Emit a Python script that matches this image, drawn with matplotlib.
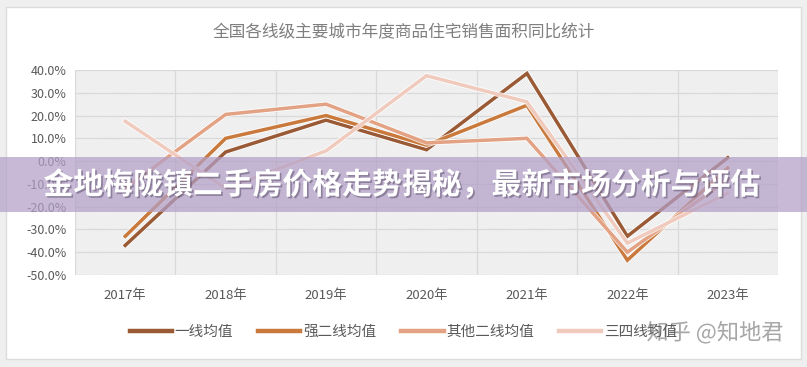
import matplotlib
matplotlib.use("Agg")
import matplotlib.pyplot as plt
import matplotlib.patheffects as pe
from matplotlib.patches import Rectangle
from matplotlib.lines import Line2D
import numpy as np

plt.rcParams['font.family'] = ['Noto Sans CJK SC', 'DejaVu Sans']
plt.rcParams['hatch.linewidth'] = 0.45

title = "全国各线级主要城市年度商品住宅销售面积同比统计"
banner = "金地梅陇镇二手房价格走势揭秘，最新市场分析与评估"
watermark = "知乎 @知地君"
years = ["2017年", "2018年", "2019年", "2020年", "2021年", "2022年", "2023年"]
series_names = ["一线均值", "强二线均值", "其他二线均值", "三四线均值"]
tier1 = [-37, 4, 18, 5, 38.5, -33, 1.5]
strong2 = [-33, 10, 20, 7, 24.5, -43.5, -3]
other2 = [-12, 20.5, 25, 8, 10, -40, -8]
tier34 = [17.5, -12, 4.5, 37.5, 26, -36, -14]
yticks = [40, 30, 20, 10, 0, -10, -20, -30, -40, -50]

colors = ["#9a5a35", "#c9793b", "#e2a283", "#efcabd"]
series = [tier1, strong2, other2, tier34]

W, H = 807, 367
fig = plt.figure(figsize=(W / 100, H / 100), dpi=100, facecolor="#efefef")

# white card
fig.patches.append(Rectangle((6 / W, 8 / H), 795 / W, 352 / H, transform=fig.transFigure,
                             facecolor="white", edgecolor="#dcdcdc", lw=1.0, zorder=-1))

ax = fig.add_axes([75 / W, 92 / H, 703 / W, 205 / H])
ax.set_zorder(1)
ax.set_facecolor("none")
ax.add_patch(Rectangle((0, 0), 1, 1, transform=ax.transAxes, facecolor="white",
                       edgecolor="#e2e2e2", hatch="\\" * 20, lw=0, zorder=0))

x = np.arange(len(years))
for vals, c in zip(series, colors):
    ax.plot(x, vals, color=c, lw=2.5, solid_joinstyle="miter", zorder=3,
            path_effects=[pe.Stroke(linewidth=3.8, foreground="white", alpha=0.8), pe.Normal()])

ax.set_xlim(-0.5, len(years) - 0.5)
ax.set_ylim(-50, 40)
ax.set_yticks(yticks)
ax.set_yticklabels([f"{v:.1f}%" for v in yticks], fontsize=9, color="#595959")
ax.set_xticks(x)
ax.set_xticklabels(years, fontsize=9.5, color="#595959")
ax.set_xticks(np.arange(-0.5, len(years), 0.5), minor=True)
ax.tick_params(axis="both", which="both", length=0, pad=6)
ax.tick_params(axis="x", pad=10)
ax.grid(True, axis="y", color="#d9d9d9", lw=0.9, zorder=1)
ax.grid(True, axis="x", which="minor", color="#d9d9d9", lw=0.9, zorder=1)
ax.set_axisbelow(False)
for s in ax.spines.values():
    s.set_visible(False)

fig.text(0.5, 0.91, title, ha="center", va="center", fontsize=12, color="#7f7f7f")

handles = [Line2D([0], [0], color=c, lw=3.2) for c in colors]
fig.legend(handles, series_names, loc="center", bbox_to_anchor=(0.5, 0.095), ncol=4,
           frameon=False, fontsize=10.5, handlelength=2.9, handletextpad=0.2,
           columnspacing=1.7, labelcolor="#595959")

fig.text(715 / W, 1 - 333 / H, watermark, ha="center", va="center", fontsize=16,
         color="#9a9a9a", alpha=0.85, zorder=4,
         path_effects=[pe.withStroke(linewidth=2, foreground="white")])

# banner overlay
fig.patches.append(Rectangle((0, 1 - 212 / H), 1, 55 / H, transform=fig.transFigure,
                             facecolor="#b3a0c8", alpha=0.72, lw=0, zorder=5))
fig.text(402 / W, 1 - 185 / H, banner, ha="center", va="center", fontsize=21.5,
         fontweight="bold", color="white", zorder=6,
         path_effects=[pe.withSimplePatchShadow(offset=(1.2, -1.2), shadow_rgbFace="#4a3d5a", alpha=0.45)])

fig.savefig("out.png", dpi=100, facecolor=fig.get_facecolor())
